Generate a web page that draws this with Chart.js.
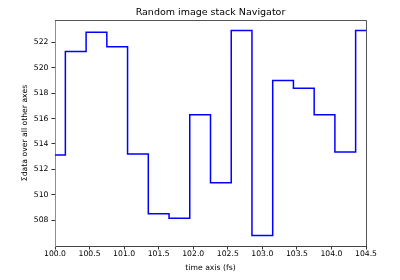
<!DOCTYPE html>
<html>
<head>
<meta charset="utf-8">
<script src="https://cdn.jsdelivr.net/npm/chart.js@4"></script>
<style>
  html, body { margin: 0; padding: 0; background: #fff; }
  #wrap { width: 400px; height: 280px; }
</style>
</head>
<body>
<div id="wrap"><canvas id="nav"></canvas></div>
<script>
const timeAxis = [100.0, 100.3, 100.6, 100.9, 101.2, 101.5, 101.8, 102.1,
                  102.4, 102.7, 103.0, 103.3, 103.6, 103.9, 104.2, 104.5];
const sumValues = [513.12, 521.27, 522.79, 521.64, 513.2, 508.5, 508.16, 516.3,
                   510.94, 522.92, 506.79, 519.0, 518.38, 516.3, 513.36, 522.92];
const yTicks = [508, 510, 512, 514, 516, 518, 520, 522];
const xTicks = [100.0, 100.5, 101.0, 101.5, 102.0, 102.5, 103.0, 103.5, 104.0, 104.5];
const chartTitle = 'Random image stack Navigator';

const font = "'DejaVu Sans', sans-serif";

// top and right spines, title centred over the axes like matplotlib
const frame = {
    id: 'frame',
    afterDraw(chart) {
        const a = chart.chartArea, c = chart.ctx;
        c.save();
        c.strokeStyle = '#555';
        c.lineWidth = 1;
        c.beginPath();
        c.moveTo(a.left, a.top + 0.5);
        c.lineTo(a.right + 0.5, a.top + 0.5);
        c.lineTo(a.right + 0.5, a.bottom);
        c.stroke();
        c.fillStyle = '#000';
        c.font = '9.5px ' + font;
        c.textAlign = 'center';
        c.textBaseline = 'middle';
        c.fillText(chartTitle, (a.left + a.right) / 2, 12.5);
        c.restore();
    }
};

new Chart(document.getElementById('nav'), {
    type: 'line',
    data: {
        datasets: [{
            data: timeAxis.map((t, i) => ({x: t, y: sumValues[i]})),
            stepped: 'middle',
            borderColor: '#0000ff',
            borderWidth: 1.5,
            pointRadius: 0,
            fill: false,
        }]
    },
    options: {
        responsive: true,
        maintainAspectRatio: false,
        animation: false,
        layout: { padding: { left: 0, right: 34, top: 20, bottom: 0 } },
        plugins: {
            legend: { display: false },
            tooltip: { enabled: false },
            title: { display: false },
        },
        scales: {
            x: {
                type: 'linear',
                min: 100,
                max: 104.5,
                afterFit: s => { s.height = 34; },
                afterBuildTicks: s => { s.ticks = xTicks.map(v => ({value: v})); },
                ticks: {
                    color: '#000',
                    font: { family: font, size: 7.7 },
                    padding: 0,
                    maxRotation: 0,
                    callback: v => v.toFixed(1),
                },
                grid: { drawOnChartArea: false, drawTicks: true, tickLength: 3.5, color: '#333' },
                border: { color: '#444', width: 1 },
                title: {
                    display: true,
                    text: 'time axis (fs)',
                    color: '#000',
                    font: { family: font, size: 7.7 },
                    padding: { top: 0, bottom: 7 },
                },
            },
            y: {
                min: 505.97,
                max: 523.75,
                afterFit: s => { s.width = 55; },
                afterBuildTicks: s => { s.ticks = yTicks.map(v => ({value: v})); },
                ticks: {
                    color: '#000',
                    font: { family: font, size: 7.7 },
                    padding: 3,
                },
                grid: { drawOnChartArea: false, drawTicks: true, tickLength: 3.5, color: '#333' },
                border: { color: '#f06464', width: 1 },
                title: {
                    display: true,
                    text: 'Σdata over all other axes',
                    color: '#000',
                    font: { family: font, size: 7.7 },
                    padding: { top: 20, bottom: 0 },
                },
            },
        },
    },
    plugins: [frame],
});
</script>
</body>
</html>
